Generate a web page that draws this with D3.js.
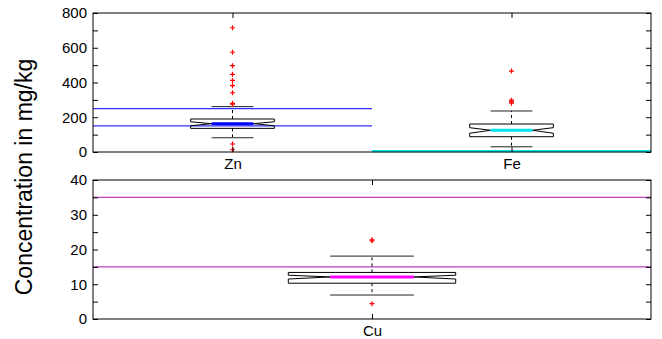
<!DOCTYPE html>
<html><head><meta charset="utf-8">
<script src="https://cdn.jsdelivr.net/npm/d3@7"></script>
<style>body{margin:0;background:#fff}svg{display:block}text{font-family:"Liberation Sans",Arial,sans-serif}</style>
</head><body>
<script>
// ---- data ----
const topCategories = ["Zn", "Fe"];
const topStats = [ // [lowerWhisker, q1, notchLo, median, notchHi, q3, upperWhisker]
  [82, 136, 151, 163, 174, 190, 261],
  [30, 88, 108, 125, 140, 161, 236]
];
const topOutliers = [
  [715, 574, 497, 447, 412, 382, 341, 280, 275, 46, 13],
  [466, 298, 290, 281]
];
const topColors = ["#0000ff", "#00e5ee"];
const znLimits = [250, 150];
const feLimits = [5];
const topYTicks = [0,100,200,300,400,500,600,700,800];

const botCategories = ["Cu"];
const botStats = [[6.9, 10.3, 11.5, 12.1, 12.6, 13.4, 18.1]];
const botOutliers = [[22.5, 22.8, 4.4]];
const botColors = ["#ff00ff"];
const cuLimits = [35, 15];
const botYTicks = [0,5,10,15,20,25,30,35,40];

const yLabel = "Concentration in mg/kg";

// ---- layout ----
const W = 662, H = 339;
const svg = d3.select("body").append("svg").attr("width", W).attr("height", H);
const L = 93, R = 651;
const FS = 15;

function panel(cats, stats, outs, colors, yDom, yTicks, labelEvery, top, bottom, limits) {
  const g = svg.append("g");
  const x = d3.scaleLinear().domain([0.5, cats.length + 0.5]).range([L, R]);
  const y = d3.scaleLinear().domain(yDom).range([bottom, top]);
  limits.forEach(l => {
    g.append("line").attr("x1", x(l.x0)).attr("x2", x(l.x1))
      .attr("y1", y(l.v)).attr("y2", y(l.v))
      .attr("stroke", l.color).attr("stroke-width", l.w);
  });
  const bw = 0.15, nw = 0.075;
  stats.forEach((s, i) => {
    const c = i + 1;
    const [lw, q1, nlo, med, nhi, q3, uw] = s;
    g.append("line").attr("x1", x(c)).attr("x2", x(c)).attr("y1", y(q3)).attr("y2", y(uw))
      .attr("stroke", "#000").attr("stroke-dasharray", "3,3");
    g.append("line").attr("x1", x(c)).attr("x2", x(c)).attr("y1", y(q1)).attr("y2", y(lw))
      .attr("stroke", "#000").attr("stroke-dasharray", "3,3");
    [lw, uw].forEach(v => g.append("line").attr("x1", x(c - nw)).attr("x2", x(c + nw))
      .attr("y1", y(v)).attr("y2", y(v)).attr("stroke", "#222"));
    const pts = [
      [c - bw, q3], [c + bw, q3], [c + bw, nhi], [c + nw, med], [c + bw, nlo], [c + bw, q1],
      [c - bw, q1], [c - bw, nlo], [c - nw, med], [c - bw, nhi]
    ];
    g.append("path").attr("d", d3.line().x(d => x(d[0])).y(d => y(d[1]))(pts) + "Z")
      .attr("fill", "none").attr("stroke", "#000").attr("stroke-width", 1);
    g.append("line").attr("x1", x(c - nw)).attr("x2", x(c + nw)).attr("y1", y(med)).attr("y2", y(med))
      .attr("stroke", colors[i]).attr("stroke-width", 3);
    outs[i].forEach(v => {
      const px = x(c), py = y(v);
      g.append("path").attr("d", `M${px-2.5},${py}H${px+2.5}M${px},${py-2.5}V${py+2.5}`)
        .attr("stroke", "#ff0000").attr("stroke-width", 1.2);
    });
  });
  const fmt = d => (d % labelEvery === 0 ? d : "");
  g.append("g").attr("transform", `translate(${L},0)`)
    .call(d3.axisLeft(y).tickValues(yTicks).tickFormat(fmt).tickSizeInner(-5).tickSizeOuter(0).tickPadding(6))
    .call(a => { a.select(".domain").remove(); a.selectAll("text").attr("font-size", FS).attr("font-family", "Liberation Sans, Arial, sans-serif").attr("fill", "#000"); });
  g.append("g").attr("transform", `translate(${R},0)`)
    .call(d3.axisRight(y).tickValues(yTicks).tickFormat("").tickSizeInner(-5).tickSizeOuter(0))
    .call(a => a.select(".domain").remove());
  g.append("g").attr("transform", `translate(0,${bottom})`)
    .call(d3.axisBottom(x).tickValues(cats.map((d, i) => i + 1)).tickFormat((d, i) => cats[i]).tickSizeInner(-5).tickSizeOuter(0).tickPadding(6))
    .call(a => { a.select(".domain").remove(); a.selectAll("text").attr("font-size", FS).attr("font-family", "Liberation Sans, Arial, sans-serif").attr("fill", "#000"); });
  g.append("g").attr("transform", `translate(0,${top})`)
    .call(d3.axisTop(x).tickValues(cats.map((d, i) => i + 1)).tickFormat("").tickSizeInner(-5).tickSizeOuter(0))
    .call(a => a.select(".domain").remove());
  g.append("rect").attr("x", L).attr("y", top).attr("width", R - L).attr("height", bottom - top)
    .attr("fill", "none").attr("stroke", "#000").attr("stroke-width", 1);
}

panel(topCategories, topStats, topOutliers, topColors, [0, 800], topYTicks, 200, 13, 152,
  znLimits.map(v => ({v, x0: 0.5, x1: 1.5, color: "#3030ff", w: 1.2}))
    .concat(feLimits.map(v => ({v, x0: 1.5, x1: 2.5, color: "#00e5ee", w: 2.2}))));
panel(botCategories, botStats, botOutliers, botColors, [0, 40], botYTicks, 10, 180, 319,
  cuLimits.map(v => ({v, x0: 0.5, x1: 1.5, color: "#c040c0", w: 1.2})));

svg.append("text").attr("transform", "translate(32,177) rotate(-90)")
  .attr("text-anchor", "middle").attr("font-size", 23).attr("fill", "#000").text(yLabel);
</script>
</body></html>
